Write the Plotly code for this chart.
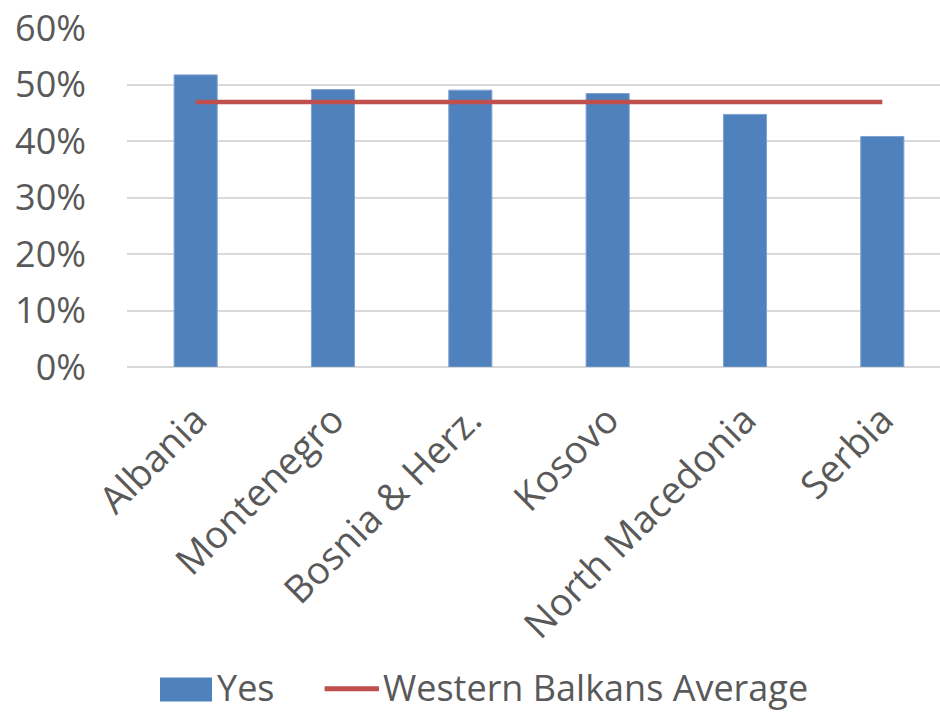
import plotly.graph_objects as go

countries = ["Albania", "Montenegro", "Bosnia & Herz.", "Kosovo", "North Macedonia", "Serbia"]
yes_share = [0.517, 0.491, 0.490, 0.484, 0.447, 0.408]
wb_average = [0.469] * len(countries)

FONT = "'Open Sans', Lato, sans-serif"
GREY = "#595959"
BLUE = "#4f81bd"
RED = "#c0504d"
SIZE = 36

fig = go.Figure()
fig.add_trace(go.Bar(
    x=countries, y=yes_share, name="Yes",
    marker=dict(color=BLUE, line=dict(color="#7fa3d1", width=1)),
))
fig.add_trace(go.Scatter(
    x=countries, y=wb_average, name="Western Balkans Average",
    mode="lines", line=dict(color=RED, width=4.5),
))

# Legend drawn below the category labels, in paper coordinates
legend_y = -0.946
fig.add_shape(type="rect", xref="paper", yref="paper",
              x0=0.0406, x1=0.1046, y0=-0.987, y1=-0.916,
              fillcolor=BLUE, line=dict(width=0))
fig.add_shape(type="line", xref="paper", yref="paper",
              x0=0.2430, x1=0.3100, y0=-0.949, y1=-0.949,
              line=dict(color=RED, width=5))
fig.add_annotation(text="Yes", xref="paper", yref="paper", x=0.108, y=legend_y,
                   xanchor="left", yanchor="middle", showarrow=False,
                   font=dict(size=SIZE, color=GREY))
fig.add_annotation(text="Western Balkans Average", xref="paper", yref="paper",
                   x=0.313, y=legend_y, xanchor="left", yanchor="middle",
                   showarrow=False, font=dict(size=SIZE, color=GREY))

fig.update_layout(
    width=940, height=714,
    margin=dict(l=127, r=0, t=28, b=347),
    paper_bgcolor="white", plot_bgcolor="white",
    bargap=0.686,
    font=dict(family=FONT, size=SIZE, color=GREY),
    showlegend=False,
    xaxis=dict(range=[-0.5, 5.42], showgrid=False, showline=False, ticks="",
               tickangle=-45, ticklabelstandoff=22, tickfont=dict(size=38, color=GREY)),
    yaxis=dict(range=[0, 0.6], tickformat=".0%", dtick=0.1, showgrid=True,
               gridcolor="#d9d9d9", gridwidth=2, zeroline=True, zerolinecolor="#d9d9d9",
               zerolinewidth=2, showline=False, ticks="", ticklabelstandoff=40,
               tickfont=dict(size=SIZE, color=GREY)),
)

fig.write_html("out.html")
